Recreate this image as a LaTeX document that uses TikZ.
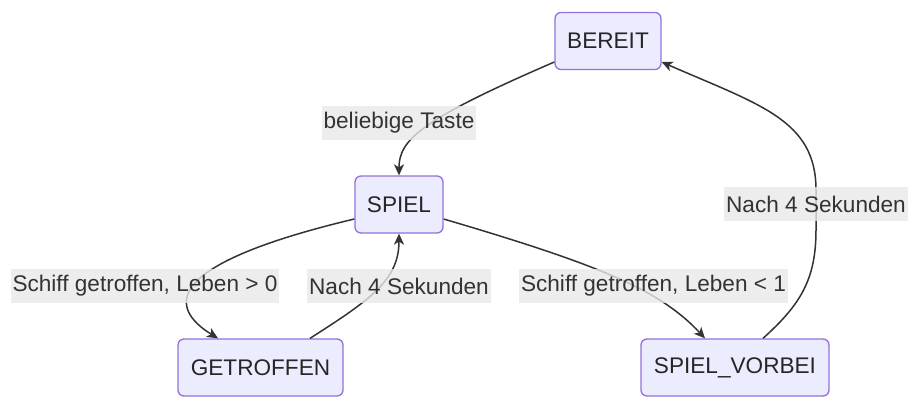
\documentclass[tikz,border=0pt]{standalone}
\usepackage{fontspec}
\setmainfont{Liberation Sans}
\usetikzlibrary{arrows.meta}
\definecolor{zfill}{HTML}{ECECFF}
\definecolor{zrand}{HTML}{9370DB}
\definecolor{linie}{HTML}{333333}
\definecolor{lfill}{HTML}{E8E8E8}
\begin{document}
\begin{tikzpicture}[x=1pt,y=-1pt,
    zustand/.style={draw=zrand,fill=zfill,line width=1.3pt,rounded corners=6pt,
        minimum height=57pt,inner sep=0pt,font=\fontsize{22.6}{27}\selectfont,text=black!85},
    uebergang/.style={draw=linie,line width=1.5pt,-{Stealth[length=11pt,width=10pt,inset=3pt]}},
    etikett/.style={fill=lfill,fill opacity=0.8,text opacity=1,text=linie,inner xsep=2pt,
        inner ysep=0pt,minimum height=34pt,font=\fontsize{22.6}{27}\selectfont}]
    \useasboundingbox (0,0) rectangle (916,413);
    % Zustaende
    \node[zustand,minimum width=106pt] (bereit) at (608,41) {BEREIT};
    \node[zustand,minimum width=88pt] (spiel) at (399,204.5) {SPIEL};
    \node[zustand,minimum width=165pt] (getroffen) at (260.5,367.5) {GETROFFEN};
    \node[zustand,minimum width=188pt] (vorbei) at (735,367.5) {SPIEL\_VORBEI};
    % Uebergaenge
    \draw[uebergang] ([yshift=-21pt]bereit.west) .. controls (420,120) and (399,140) .. (spiel.north);
    \draw[uebergang] ([yshift=-14.5pt]spiel.west) .. controls (140,270) and (180,315) .. ([xshift=-42.5pt]getroffen.north);
    \draw[uebergang] ([xshift=49.5pt]getroffen.north) .. controls (370,300) and (399,280) .. (spiel.south);
    \draw[uebergang] ([yshift=-14.5pt]spiel.east) .. controls (600,265) and (660,290) .. ([xshift=-30pt]vorbei.north);
    \draw[uebergang] ([xshift=28pt]vorbei.north) .. controls (800,305) and (816,280) .. (816,230)
        -- (816,190) .. controls (816,120) and (760,105) .. ([yshift=-21pt]bereit.east);
    % Beschriftungen
    \node[etikett] (l1) at (399,122.5) {beliebige Taste};
    \node[etikett] (l2) at (145,286) {Schiff getroffen, Leben > 0};
    \node[etikett] (l3) at (399,286) {Nach 4 Sekunden};
    \node[etikett] (l4) at (653.5,286) {Schiff getroffen, Leben < 1};
    \node[etikett] (l5) at (816,204) {Nach 4 Sekunden};
\end{tikzpicture}
\end{document}
